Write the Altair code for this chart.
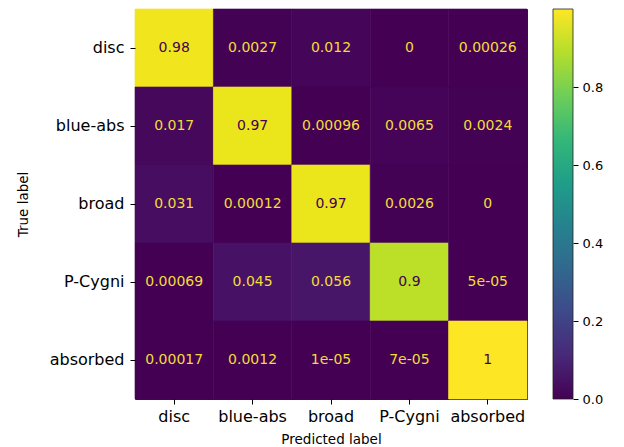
import altair as alt
import pandas as pd

classes = ["disc", "blue-abs", "broad", "P-Cygni", "absorbed"]
row_disc = [0.98, 0.0027, 0.012, 0, 0.00026]
row_blue_abs = [0.017, 0.97, 0.00096, 0.0065, 0.0024]
row_broad = [0.031, 0.00012, 0.97, 0.0026, 0]
row_pcygni = [0.00069, 0.045, 0.056, 0.9, 5e-05]
row_absorbed = [0.00017, 0.0012, 1e-05, 7e-05, 1]
matrix = [row_disc, row_blue_abs, row_broad, row_pcygni, row_absorbed]
cbar_ticks = [0.0, 0.2, 0.4, 0.6, 0.8]

records = []
for t, row in zip(classes, matrix):
    for p, v in zip(classes, row):
        records.append({"true": t, "pred": p, "value": v, "label": format(v, ".2g")})
df = pd.DataFrame(records)

vmin = min(min(r) for r in matrix)
vmax = max(max(r) for r in matrix)
cb_df = pd.DataFrame({"lo": [vmin], "hi": [vmax]})

FONT = "DejaVu Sans"
W, H = 392, 390

viridis = ["#440154", "#482878", "#3e4989", "#31688e", "#26828e",
           "#1f9e89", "#35b779", "#6ece58", "#b5de2b", "#fde725"]
gradient = {
    "gradient": "linear", "x1": 0, "y1": 1, "x2": 0, "y2": 0,
    "stops": [{"offset": i / (len(viridis) - 1), "color": c} for i, c in enumerate(viridis)],
}

x_enc = alt.X("pred:N", sort=classes, title="Predicted label",
              scale=alt.Scale(paddingInner=0, paddingOuter=0),
              axis=alt.Axis(labelAngle=0, labelFontSize=16, labelPadding=4, tickSize=5,
                            domain=False, titleFontSize=13.5, titleFontWeight="normal",
                            titleY=40, titleBaseline="middle"))
y_enc = alt.Y("true:N", sort=classes, title="True label",
              scale=alt.Scale(paddingInner=0, paddingOuter=0),
              axis=alt.Axis(labelFontSize=16, labelPadding=6, tickSize=5, domain=False,
                            titleFontSize=13.5, titleFontWeight="normal",
                            titleX=-112, titleBaseline="middle"))

cscale = alt.Scale(scheme="viridis", domain=[vmin, vmax])

heat = alt.Chart(df).mark_rect(strokeWidth=0.6).encode(
    x=x_enc, y=y_enc,
    color=alt.Color("value:Q", scale=cscale, legend=None),
    stroke=alt.Stroke("value:Q", scale=cscale, legend=None),
)

text = alt.Chart(df).mark_text(font=FONT, fontSize=14).encode(
    x=x_enc, y=y_enc,
    text="label:N",
    color=alt.condition("datum.value > 0.5", alt.value("#440154"), alt.value("#f2dc3a")),
)

matrix_layer = alt.layer(heat, text)

cbar = alt.Chart(cb_df).mark_rect(stroke="#222222", strokeWidth=0.8).encode(
    x=alt.value(418), x2=alt.value(438),
    y=alt.Y("lo:Q", scale=alt.Scale(domain=[vmin, vmax], nice=False, zero=False),
            axis=alt.Axis(orient="right", offset=46, values=cbar_ticks, format=".1f",
                          title=None, domain=False, grid=False, tickSize=5,
                          labelFontSize=13, labelPadding=4)),
    y2="hi:Q",
    fill=alt.value(gradient),
)

chart = alt.layer(matrix_layer, cbar).resolve_scale(y="independent").resolve_axis(y="independent").properties(
    width=W, height=H,
    autosize=alt.AutoSizeParams(type="none"),
    padding={"left": 127, "top": 1, "right": 89, "bottom": 48},
).configure_view(stroke="#222222", strokeWidth=1).configure_axis(
    labelFont=FONT, titleFont=FONT, labelColor="black", titleColor="black",
    tickColor="black", grid=False,
)

chart.save("out.html", embed_options={"renderer": "svg", "actions": False})
